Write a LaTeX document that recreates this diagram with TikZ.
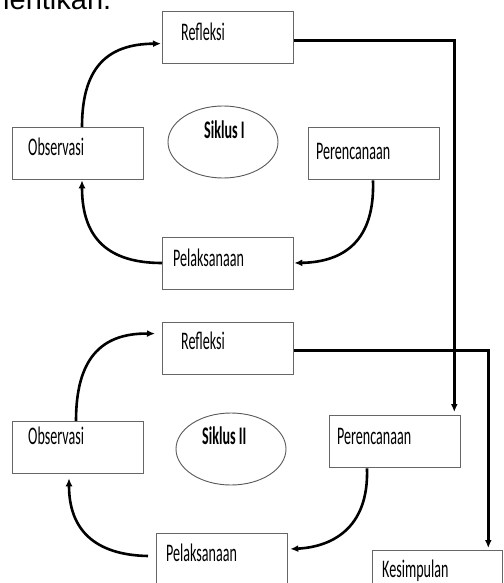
\documentclass[tikz,border=0pt]{standalone}
\usepackage{fontspec}
\usepackage{graphicx}
\setmainfont{Carlito}
\newfontfamily\arialfont{Liberation Sans}
\usetikzlibrary{arrows.meta,shapes.geometric}
\newcommand\sqz[1]{\scalebox{0.64}[1.15]{#1}}
\tikzset{
  box/.style={draw=black!60, line width=1.3pt, minimum width=131pt, minimum height=52pt, inner sep=0pt, anchor=north west},
  oval/.style={draw=black!65, line width=0.9pt, ellipse, minimum width=110pt, minimum height=72pt, inner sep=0pt},
  txt/.style={anchor=base west, inner sep=0pt, font=\fontsize{22pt}{24pt}\selectfont},
  btxt/.style={txt, font=\fontsize{22pt}{24pt}\selectfont\bfseries},
  flow/.style={line width=2.6pt, -{Latex[length=8pt,width=7pt]}},
}
\begin{document}
\begin{tikzpicture}[x=1pt,y=-1pt]
\useasboundingbox (0,0) rectangle (503,583);
\clip (0,0) rectangle (503,583);
\fill[white] (0,0) rectangle (503,583);
% cropped heading text
\node[anchor=base west, inner sep=0pt, font=\arialfont\fontsize{29pt}{30pt}\selectfont] (head) at (3,9.5) {lentikan.};
% Cycle I
\node[box] (refl1) at (162,11) {};
\node[box] (obs1) at (12,127) {};
\node[box] (per1) at (308,127) {};
\node[box] (pel1) at (162,237) {};
\node[oval] (sik1) at (223,142) {};
\node[txt] (refl1t) at (181,41) {\sqz{Refleksi}};
\node[txt] (obs1t) at (28,155) {\sqz{Observasi}};
\node[txt] (per1t) at (316,159) {\sqz{Perencanaan}};
\node[txt] (pel1t) at (173,266) {\sqz{Pelaksanaan}};
\node[btxt] (sik1t) at (204,138) {\sqz{Siklus I}};
% Cycle II
\node[box] (refl2) at (162,322) {};
\node[box] (obs2) at (12,421) {};
\node[box] (per2) at (329,415) {};
\node[box] (pel2) at (156,533) {};
\node[box, minimum width=130pt] (kes) at (372,550) {};
\node[oval] (sik2) at (231,449) {};
\node[txt] (refl2t) at (181,349) {\sqz{Refleksi}};
\node[txt] (obs2t) at (28,444) {\sqz{Observasi}};
\node[txt] (per2t) at (337,444) {\sqz{Perencanaan}};
\node[txt] (pel2t) at (166,561) {\sqz{Pelaksanaan}};
\node[txt] (kest) at (382,577) {\sqz{Kesimpulan}};
\node[btxt] (sik2t) at (202,444) {\sqz{Siklus II}};
% cycle I arrows
\draw[flow] ([xshift=70pt]obs1.north west) .. controls (82,70) and (105,44) .. ([yshift=-6pt,xshift=-1pt]refl1.west);
\draw[flow] ([xshift=65pt]per1.south west) .. controls (375,240) and (345,262) .. ([yshift=-26pt]pel1.north east);
\draw[flow] ([yshift=-26pt]pel1.north west) .. controls (110,263) and (82,240) .. ([xshift=70pt]obs1.south west);
% cycle II arrows
\draw[flow] ([xshift=64pt]obs2.north west) .. controls (76,360) and (100,333) .. ([yshift=15pt,xshift=-7pt]refl2.west);
\draw[flow] ([xshift=38pt]per2.south west) .. controls (369,530) and (330,547) .. ([yshift=-16pt,xshift=2pt]pel2.north east);
\draw[flow] ([yshift=-23pt,xshift=-8pt]pel2.north west) .. controls (95,555) and (69,530) .. ([xshift=57pt,yshift=-4pt]obs2.south west);
% links between cycles
\draw[flow] ([yshift=-3pt]refl1.east) -| ([xshift=-7pt,yshift=3pt]per2.north east);
\draw[flow] ([yshift=-2pt]refl2.east) -| ([xshift=-15pt,yshift=2pt]kes.north east);
\end{tikzpicture}
\end{document}
